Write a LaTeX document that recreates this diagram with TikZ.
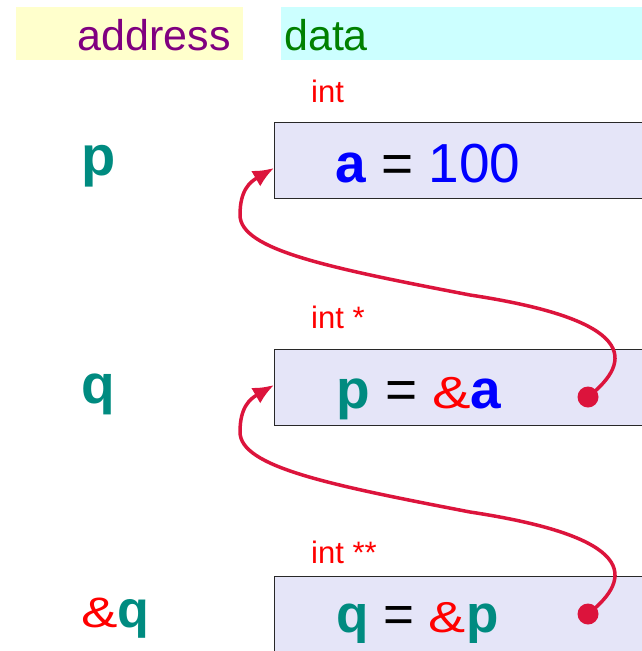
\documentclass[tikz,border=0pt]{standalone}
\usepackage{fontspec}
\usepackage{graphicx}
\setmainfont{Liberation Sans}
\usetikzlibrary{arrows.meta}
\definecolor{hdryellow}{RGB}{255,255,204}
\definecolor{hdrcyan}{RGB}{204,255,255}
\definecolor{addrpurple}{RGB}{128,0,128}
\definecolor{datagreen}{RGB}{0,128,0}
\definecolor{cellfill}{RGB}{229,229,248}
\definecolor{celldraw}{RGB}{40,40,40}
\definecolor{tealc}{RGB}{0,139,128}
\definecolor{ptrred}{RGB}{220,20,60}
\newcommand{\amp}{\scalebox{1.05}[0.82]{\&}}
\tikzset{
  hdrbox/.style={inner sep=0, anchor=north west, draw=none},
  hdrtxt/.style={inner sep=0, font=\fontsize{43}{46}\selectfont},
  cell/.style={inner sep=0, anchor=north west, fill=cellfill, draw=celldraw, line width=1.3pt, minimum width=380},
  celltxt/.style={inner sep=0, anchor=base west},
  typetxt/.style={inner sep=0, anchor=base west, text=red, font=\fontsize{31}{34}\selectfont},
  lbltxt/.style={inner sep=0, anchor=base west, text=tealc},
  dotnode/.style={circle, fill=ptrred, inner sep=0, minimum size=21},
  ptr/.style={draw=ptrred, line width=3.5pt, -{Latex[length=21pt,width=18pt]}}
}
\begin{document}
\begin{tikzpicture}[x=1pt,y=-1pt]
\useasboundingbox (0,0) rectangle (641,651);
% header
\node[hdrbox, fill=hdryellow, minimum width=227, minimum height=53] (haddr) at (16,7) {};
\node[hdrbox, fill=hdrcyan, minimum width=370, minimum height=53] (hdata) at (281,7) {};
\node[hdrtxt, anchor=base east, text=addrpurple] (taddr) at (231,50) {address};
\node[hdrtxt, anchor=base west, text=datagreen] (tdata) at (284,50) {data};
% type labels
\node[typetxt] (ty1) at (311,102) {int};
\node[typetxt] (ty2) at (311,328) {int *};
\node[typetxt] (ty3) at (311,563) {int **};
% cells
\node[cell, minimum height=76] (b1) at (274,122) {};
\node[cell, minimum height=76] (b2) at (274,349) {};
\node[cell, minimum height=100] (b3) at (274,576) {};
% cell contents
\node[celltxt, font=\fontsize{55}{60}\selectfont] (c1) at (335,182) {\textcolor{blue}{\textbf{a}} = \textcolor{blue}{100}};
\node[celltxt, font=\fontsize{55}{60}\selectfont] (c2) at (336,408) {\textcolor{tealc}{\textbf{p}} = \textcolor{red}{\amp}\textcolor{blue}{\textbf{a}}};
\node[celltxt, font=\fontsize{53}{56}\selectfont] (c3) at (336,632) {\textcolor{tealc}{\textbf{q}} = \textcolor{red}{\amp}\textcolor{tealc}{\textbf{p}}};
% address labels
\node[lbltxt, font=\fontsize{56}{60}\selectfont\bfseries] (l1) at (81,175) {p};
\node[lbltxt, font=\fontsize{55}{60}\selectfont\bfseries] (l2) at (81,403) {q};
\node[lbltxt, font=\fontsize{52}{56}\selectfont] (l3) at (81,627) {\textcolor{red}{\amp}\textbf{q}};
% pointer dots and targets
\node[dotnode] (d1) at (588,397) {};
\node[dotnode] (d2) at (588,614) {};
\coordinate (t1) at (274,168);
\coordinate (t2) at (274,385);
% arrows
\draw[ptr] (d1.center) .. controls (635,360) and (635,320) .. (470,295)
  .. controls (330,268) and (240,250) .. (240,215)
  .. controls (240,190) and (250,182) .. (t1);
\draw[ptr] (d2.center) .. controls (635,577) and (635,537) .. (470,512)
  .. controls (330,485) and (240,467) .. (240,432)
  .. controls (240,407) and (250,399) .. (t2);
\end{tikzpicture}
\end{document}
